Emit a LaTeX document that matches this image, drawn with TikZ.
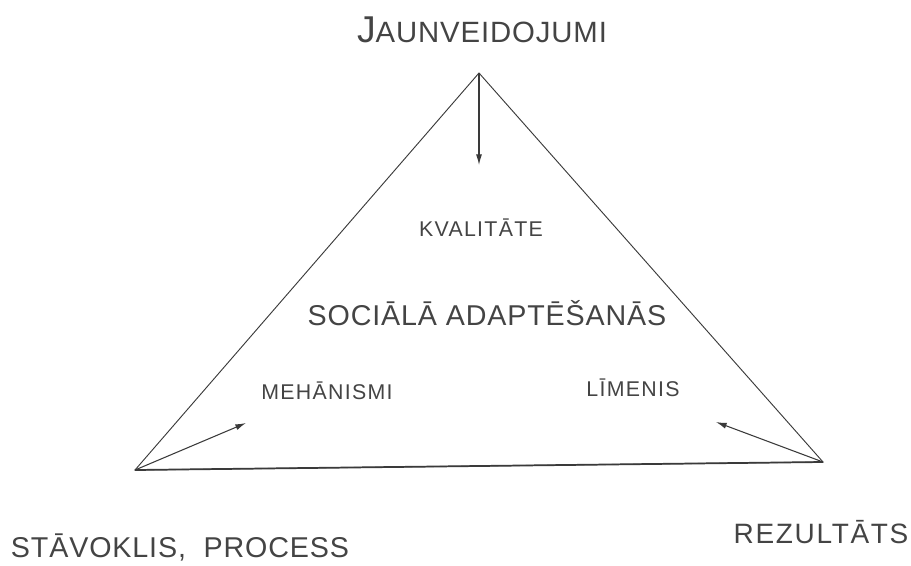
\documentclass[tikz,border=0pt]{standalone}
\usepackage{fontspec}
\setmainfont{Liberation Sans}
\usetikzlibrary{arrows.meta}

\begin{document}
\begin{tikzpicture}[x=0.75pt,y=-0.75pt]
    \definecolor{ink}{HTML}{3a3a3a}
    \definecolor{label}{HTML}{444444}
    \tikzset{
        edge/.style={color=ink, line width=0.7pt},
        pointer/.style={color=ink, line width=0.8pt, -{Latex[length=8pt,width=4.5pt]}},
        caption/.style={color=label, inner sep=0pt}
    }
    %\draw[help lines] (0,0) grid (911,565);
    \useasboundingbox (0,0) rectangle (911,565);

    \coordinate (top) at (479,73);
    \coordinate (left) at (135,470);
    \coordinate (right) at (823,462);
    \coordinate (topend) at (479,165);
    \coordinate (leftend) at (246,423);
    \coordinate (rightend) at (716,422);

    \draw[edge] (top) -- (right) -- (left) -- cycle;
    \draw[edge, line width=1.3pt] (left) -- (right);

    \draw[pointer] (top) -- (topend);
    \draw[pointer] (left) -- (leftend);
    \draw[pointer] (right) -- (rightend);

    \node[caption] (new) at (482,30) {\addfontfeature{LetterSpace=3}\fontsize{28}{28}\selectfont J\fontsize{22}{22}\selectfont AUNVEIDOJUMI};
    \node[caption] (quality) at (481,228) {\addfontfeature{LetterSpace=6}\fontsize{16}{16}\selectfont KVALITĀTE};
    \node[caption] (adapt) at (487,313) {\addfontfeature{LetterSpace=3}\fontsize{21.5}{22}\selectfont SOCIĀLĀ ADAPTĒŠANĀS};
    \node[caption] (mech) at (327,391) {\addfontfeature{LetterSpace=6}\fontsize{16}{16}\selectfont MEHĀNISMI};
    \node[caption] (level) at (633,388) {\addfontfeature{LetterSpace=6}\fontsize{16}{16}\selectfont LĪMENIS};
    \node[caption] (state) at (180,547) {\addfontfeature{LetterSpace=3}\fontsize{21.5}{22}\selectfont STĀVOKLIS,\ \ PROCESS};
    \node[caption] (result) at (821,532) {\addfontfeature{LetterSpace=6}\fontsize{21}{21}\selectfont REZULTĀTS};

\end{tikzpicture}
\end{document}
